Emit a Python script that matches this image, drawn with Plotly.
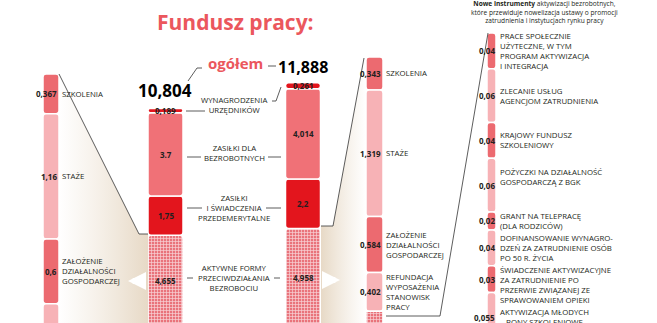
import plotly.graph_objects as go
import numpy as np

W, H = 657, 323

# ---------------- data ----------------
MAIN_CATS = ["AKTYWNE FORMY<br>PRZECIWDZIAŁANIA<br>BEZROBOCIU",
             "ZASIŁKI<br>I ŚWIADCZENIA<br>PRZEDEMERYTALNE",
             "ZASIŁKI DLA<br>BEZROBOTNYCH",
             "WYNAGRODZENIA<br>URZĘDNIKÓW"]
MAIN_LEFT = [4.655, 1.75, 3.7, 0.189]
MAIN_RIGHT = [4.958, 2.2, 4.014, 0.261]
MAIN_LEFT_TXT = ["4,655", "1,75", "3.7", "0,189"]
MAIN_RIGHT_TXT = ["4,958", "2,2", "4,014", "0,261"]
TOTALS = ["10,804", "11,888"]

ACT_CATS = ["SZKOLENIA", "STAŻE", "ZAŁOŻENIE<br>DZIAŁALNOŚCI<br>GOSPODARCZEJ",
            "REFUNDACJA<br>WYPOSAŻENIA<br>STANOWISK<br>PRACY"]
ACT_LEFT = [0.367, 1.16, 0.6, 0.45]
ACT_RIGHT = [0.343, 1.319, 0.584, 0.402]

NEW_CATS = ["PRACE SPOŁECZNIE<br>UŻYTECZNE, W TYM<br>PROGRAM AKTYWIZACJA<br>I INTEGRACJA",
            "ZLECANIE USŁUG<br>AGENCJOM ZATRUDNIENIA",
            "KRAJOWY FUNDUSZ<br>SZKOLENIOWY",
            "POŻYCZKI NA DZIAŁALNOŚĆ<br>GOSPODARCZĄ Z BGK",
            "GRANT NA TELEPRACĘ<br>(DLA RODZICÓW)",
            "DOFINANSOWANIE WYNAGRO-<br>DZEŃ ZA ZATRUDNIENIE OSÓB<br>PO 50 R. ŻYCIA",
            "ŚWIADCZENIE AKTYWIZACYJNE<br>ZA ZATRUDNIENIE PO<br>PRZERWIE ZWIĄZANEJ ZE<br>SPRAWOWANIEM OPIEKI",
            "AKTYWIZACJA MŁODYCH<br>– BONY SZKOLENIOWE"]
NEW_VALUES = [0.04, 0.06, 0.04, 0.06, 0.02, 0.04, 0.03, 0.055]

# ---------------- style / layout constants ----------------
RED_TXT = "#eb575d"
DARK = "#231f20"
SALMON = "#f07177"
BRIGHT = "#e3151d"
DEEP_PINK = "#ec6a70"
LIGHT_PINK = "#f7b2b6"
HATCH_BG = "#e9737b"
HATCH_FG = "#f8d3d6"
FONT = "Open Sans"
LBL = 7.8

X_MAIN = [165.5, 303]
X_ACT_L, X_ACT_R, X_NEW = 51, 374.5, 491.5
NEW_LABEL_SHIFT = [0, 0, 0, 8, 0, 0, -6, 0]   # px, label placement tweaks

# pixel mappings of the axes (px from top)
MAIN_BASE, MAIN_S = 340, 22.5
ACTL_TOP, ACTL_S = 74, 108
ACTR_TOP, ACTR_S = 57, 96
NEW_TOP, NEW_S = 33, 895


def fmt(v):
    return f"{v:g}".replace(".", ",")


def P(y):
    return 1 - y / H


fig = go.Figure()

# ---------------- beige funnels ----------------
fig.add_trace(go.Scatter(x=[59, 139, 148, 148, 59], y=[P(74), P(234), P(234), P(340), P(340)],
                         yaxis="y9", mode="none", fill="toself",
                         fillgradient=dict(type="horizontal",
                                           colorscale=[[0, "rgba(234,222,205,0)"], [0.35, "rgba(234,222,205,0.35)"], [1, "rgba(231,217,198,1)"]]),
                         hoverinfo="skip", showlegend=False))
fig.add_trace(go.Scatter(x=[321, 333, 364, 366, 366, 321], y=[P(226), P(226), P(58), P(58), P(340), P(340)],
                         yaxis="y9", mode="none", fill="toself",
                         fillgradient=dict(type="horizontal",
                                           colorscale=[[0, "rgba(231,217,198,1)"], [0.65, "rgba(234,222,205,0.35)"], [1, "rgba(234,222,205,0)"]]),
                         hoverinfo="skip", showlegend=False))

annots = []
shapes = []


def add_text(x, y, text, xanchor, yref, size=LBL, color=DARK, yshift=0):
    annots.append(dict(x=x, y=y, xref="x", yref=yref, text=text, showarrow=False,
                       xanchor=xanchor, yanchor="middle", yshift=yshift, borderpad=0,
                       align=xanchor if xanchor != "center" else "center",
                       font=dict(family=FONT, size=size, color=color)))


HATCH = dict(shape="+", fillmode="replace", bgcolor=HATCH_BG, fgcolor=HATCH_FG, size=3, solidity=0.4)

# ---------------- main stacked bars ----------------
cumL = np.concatenate([[0], np.cumsum(MAIN_LEFT)[:-1]])
cumR = np.concatenate([[0], np.cumsum(MAIN_RIGHT)[:-1]])
main_colors = [HATCH_BG, BRIGHT, SALMON, BRIGHT]
for i in range(len(MAIN_CATS)):
    mk = dict(color=main_colors[i], line=dict(color="white", width=1.5), cornerradius=3)
    if i == 0:
        mk["pattern"] = HATCH
    fig.add_trace(go.Bar(x=X_MAIN, y=[MAIN_LEFT[i], MAIN_RIGHT[i]], base=[cumL[i], cumR[i]],
                         width=35, marker=mk, yaxis="y", hoverinfo="skip", showlegend=False))
    for j, (v, b, t) in enumerate([(MAIN_LEFT[i], cumL[i], MAIN_LEFT_TXT[i]),
                                   (MAIN_RIGHT[i], cumR[i], MAIN_RIGHT_TXT[i])]):
        add_text(X_MAIN[j], b + v / 2, f"<b>{t}</b>", "center", "y", size=8,
                 yshift=7 if i == 0 else 0)

# ---------------- breakdown of active forms ----------------
act_colors = [DEEP_PINK, LIGHT_PINK, DEEP_PINK, LIGHT_PINK]
for vals, xc, yax, w, xr in [(ACT_LEFT, X_ACT_L, "y2", 16, 58), (ACT_RIGHT, X_ACT_R, "y3", 17, 382)]:
    cum = np.concatenate([[0], np.cumsum(vals)[:-1]])
    for i, v in enumerate(vals):
        fig.add_trace(go.Bar(x=[xc], y=[v], base=[cum[i]], width=w,
                             marker=dict(color=act_colors[i], line=dict(color="white", width=1.5), cornerradius=3),
                             yaxis=yax, hoverinfo="skip", showlegend=False))
        add_text(xr, cum[i] + v / 2, f"<b>{fmt(v)}</b>", "right", yax, size=8)
        add_text(xr + 3, cum[i] + v / 2, ACT_CATS[i], "left", yax)

# new instruments summary block at the bottom of the right breakdown
fig.add_trace(go.Bar(x=[X_ACT_R], y=[sum(NEW_VALUES)], base=[sum(ACT_RIGHT)], width=17,
                     marker=dict(color=HATCH_BG, line=dict(color="white", width=1.5), pattern=HATCH),
                     yaxis="y3", hoverinfo="skip", showlegend=False))

# ---------------- new instruments ----------------
new_colors = [DEEP_PINK if i % 2 == 0 else LIGHT_PINK for i in range(len(NEW_VALUES))]
cumN = np.concatenate([[0], np.cumsum(NEW_VALUES)[:-1]])
for i, v in enumerate(NEW_VALUES):
    fig.add_trace(go.Bar(x=[X_NEW], y=[v], base=[cumN[i]], width=9,
                         marker=dict(color=new_colors[i], line=dict(color="white", width=1.5), cornerradius=3),
                         yaxis="y4", hoverinfo="skip", showlegend=False))
    add_text(496, cumN[i] + v / 2, f"<b>{fmt(v)}</b>", "right", "y4", size=8)
    add_text(499, cumN[i] + v / 2, NEW_CATS[i], "left", "y4", yshift=NEW_LABEL_SHIFT[i])

# ---------------- middle labels of main bars ----------------
mid_y = [278, 208, 153, 105]
for cat, yy in zip(MAIN_CATS, mid_y):
    add_text(234, P(yy), cat, "center", "paper")


def line(pts, width=0.8, color="#333"):
    path = "M " + " L ".join(f"{x},{P(y)}" for x, y in pts)
    shapes.append(dict(type="path", path=path, xref="x", yref="paper",
                       line=dict(color=color, width=width)))


# connectors
line([(186, 111), (205, 111)])
line([(272, 101), (276, 101), (281, 87)])
line([(187, 157), (201, 157)]); line([(268, 157), (281, 157)])
line([(187, 208), (202, 208)]); line([(266, 208), (281, 208)])
line([(187, 278), (193, 278)]); line([(274, 278), (280, 278)])
line([(188, 81), (197, 68), (202, 68)])
line([(268, 66), (276, 66)])
# funnels
line([(59, 74), (139, 234), (148, 234)])
line([(321, 226), (333, 226), (364, 58)])
line([(386, 316), (440, 316), (488, 33)])

# white arrows
annots.append(dict(x=128, y=P(281), xref="x", yref="paper", ax=19, ay=0,
                   text="", showarrow=True, arrowhead=2, arrowsize=0.6, arrowwidth=6, arrowcolor="white"))
annots.append(dict(x=340, y=P(280), xref="x", yref="paper", ax=-17, ay=0,
                   text="", showarrow=True, arrowhead=2, arrowsize=0.6, arrowwidth=6, arrowcolor="white"))

# titles / totals
add_text(235, P(22), "<b>Fundusz pracy:</b>", "center", "paper", size=21, color=RED_TXT)
add_text(235, P(63), "<b>ogółem</b>", "center", "paper", size=15, color=RED_TXT)
add_text(165, P(91), f"<b>{TOTALS[0]}</b>", "center", "paper", size=17, color="black")
add_text(303, P(67), f"<b>{TOTALS[1]}</b>", "center", "paper", size=16, color="black")
add_text(544, P(12), "<b>Nowe instrumenty</b> aktywizacji bezrobotnych,<br>które przewiduje nowelizacja ustawy o promocji<br>zatrudnienia i instytucjach rynku pracy",
         "center", "paper", size=6.6)

ax_common = dict(visible=False, fixedrange=True)
fig.update_layout(
    width=W, height=H, margin=dict(l=0, r=0, t=0, b=0),
    paper_bgcolor="white", plot_bgcolor="white",
    barmode="overlay", showlegend=False,
    xaxis=dict(range=[0, W], domain=[0, 1], **ax_common),
    yaxis=dict(range=[(MAIN_BASE - H) / MAIN_S, MAIN_BASE / MAIN_S], **ax_common),
    yaxis2=dict(range=[(H - ACTL_TOP) / ACTL_S, -ACTL_TOP / ACTL_S], overlaying="y", anchor="x", **ax_common),
    yaxis3=dict(range=[(H - ACTR_TOP) / ACTR_S, -ACTR_TOP / ACTR_S], overlaying="y", anchor="x", **ax_common),
    yaxis4=dict(range=[(H - NEW_TOP) / NEW_S, -NEW_TOP / NEW_S], overlaying="y", anchor="x", **ax_common),
    yaxis9=dict(range=[0, 1], overlaying="y", anchor="x", **ax_common),
    annotations=annots, shapes=shapes,
)
fig.write_html("out.html")
